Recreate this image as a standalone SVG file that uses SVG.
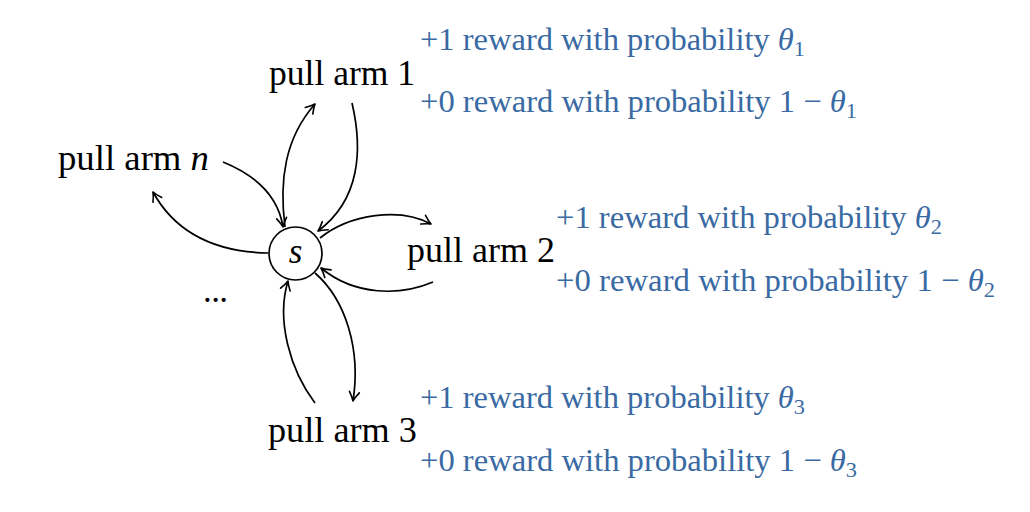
<svg xmlns="http://www.w3.org/2000/svg" width="1030" height="512" viewBox="0 0 1030 512">
<defs>
<marker id="ah" viewBox="-12 -7 14 14" refX="0" refY="0" markerWidth="14" markerHeight="14" markerUnits="userSpaceOnUse" orient="auto">
<path d="M-9,-5 Q-3.5,-1.2 0,0 Q-3.5,1.2 -9,5" fill="none" stroke="#000" stroke-width="1.6" stroke-linecap="round" stroke-linejoin="round"/>
</marker>
<style>
.lbl{font-family:"Liberation Serif","Times New Roman",serif;font-size:35px;fill:#000}
.rw{font-family:"Liberation Serif","Times New Roman",serif;font-size:32px;fill:#3a6aa3}
.sub{font-size:22px}
.it{font-style:italic}
.edge{fill:none;stroke:#000;stroke-width:1.7}
</style>
</defs>
<rect width="1030" height="512" fill="#fff"/>
<g id="connectors">
<path class="edge" d="M285,227 C279,180 285,138 315,104" marker-end="url(#ah)"/>
<path class="edge" d="M352,103 C363,150 360,200 318,231" marker-end="url(#ah)"/>
<path class="edge" d="M223,162 C255,175 278,195 283,227" marker-end="url(#ah)"/>
<path class="edge" d="M268,253 C215,252 175,232 153,192" marker-end="url(#ah)"/>
<path class="edge" d="M320,238 C350,214 400,207 431,224" marker-end="url(#ah)"/>
<path class="edge" d="M433,282 C400,296 355,296 321,268" marker-end="url(#ah)"/>
<path class="edge" d="M315,403 C290,370 276,320 288,281" marker-end="url(#ah)"/>
<path class="edge" d="M315,273 C346,300 361,350 353,401" marker-end="url(#ah)"/>
</g>
<g id="state-s">
<circle cx="295.5" cy="253.5" r="26.5" fill="#fff" stroke="#000" stroke-width="1.7"/>
<text class="lbl it" x="295.5" y="263" text-anchor="middle">s</text>
</g>
<g id="arm-1">
<text class="lbl" x="269" y="85" textLength="146" lengthAdjust="spacingAndGlyphs">pull arm 1</text>
</g>
<g id="arm-n">
<text class="lbl" x="58" y="170" textLength="151" lengthAdjust="spacingAndGlyphs">pull arm <tspan class="it">n</tspan></text>
</g>
<g id="arm-2">
<text class="lbl" x="407" y="262" textLength="148" lengthAdjust="spacingAndGlyphs">pull arm 2</text>
</g>
<g id="arm-3">
<text class="lbl" x="268" y="442" textLength="149" lengthAdjust="spacingAndGlyphs">pull arm 3</text>
</g>
<g id="dots">
<text class="lbl" x="203" y="302" textLength="25" lengthAdjust="spacing">...</text>
</g>
<g id="rewards-1">
<text class="rw" x="420" y="50" textLength="385" lengthAdjust="spacingAndGlyphs">+1 reward with probability <tspan class="it">θ</tspan><tspan class="sub" dy="6">1</tspan></text>
<text class="rw" x="420" y="112" textLength="437" lengthAdjust="spacingAndGlyphs">+0 reward with probability 1 − <tspan class="it">θ</tspan><tspan class="sub" dy="6">1</tspan></text>
</g>
<g id="rewards-2">
<text class="rw" x="556" y="228" textLength="386" lengthAdjust="spacingAndGlyphs">+1 reward with probability <tspan class="it">θ</tspan><tspan class="sub" dy="6">2</tspan></text>
<text class="rw" x="556" y="291" textLength="439" lengthAdjust="spacingAndGlyphs">+0 reward with probability 1 − <tspan class="it">θ</tspan><tspan class="sub" dy="6">2</tspan></text>
</g>
<g id="rewards-3">
<text class="rw" x="420" y="408" textLength="385" lengthAdjust="spacingAndGlyphs">+1 reward with probability <tspan class="it">θ</tspan><tspan class="sub" dy="6">3</tspan></text>
<text class="rw" x="420" y="471" textLength="437" lengthAdjust="spacingAndGlyphs">+0 reward with probability 1 − <tspan class="it">θ</tspan><tspan class="sub" dy="6">3</tspan></text>
</g>
</svg>
